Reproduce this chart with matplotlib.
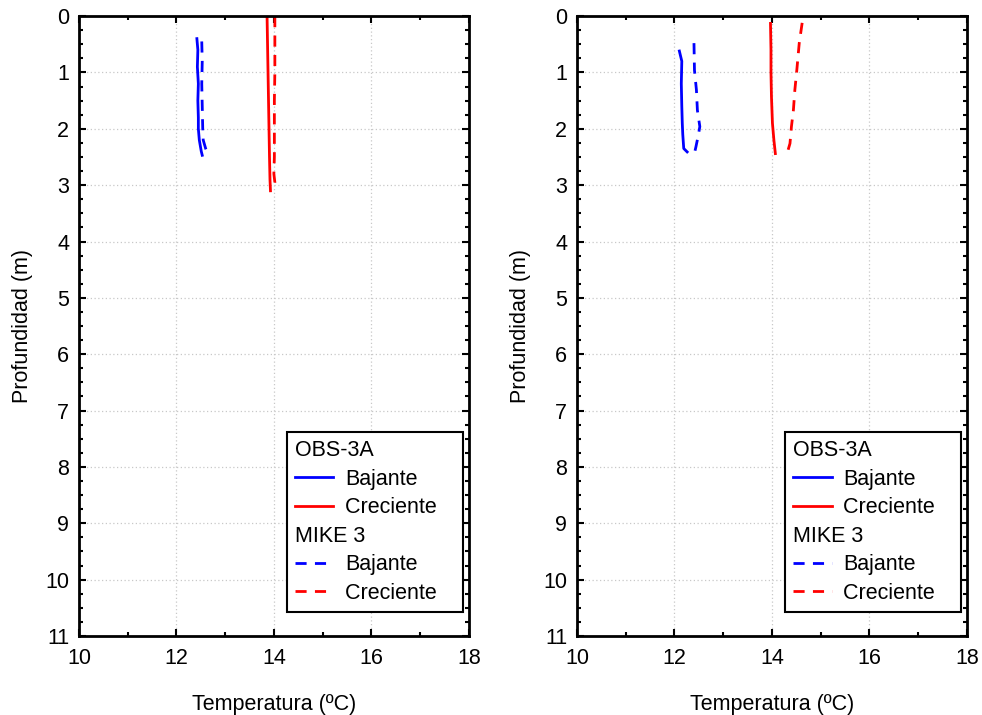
import numpy as np
import matplotlib
matplotlib.use('Agg')
import matplotlib.pyplot as plt
from matplotlib.lines import Line2D
from matplotlib.ticker import MultipleLocator

plt.rcParams['font.family'] = ['Liberation Sans', 'DejaVu Sans']

# left panel: depth (m) vs temperature (ºC)
obs_baj_z1 = [0.40, 0.60, 0.90, 1.20, 1.50, 1.80, 2.00, 2.20, 2.30, 2.40, 2.47]
obs_baj_t1 = [12.42, 12.44, 12.43, 12.45, 12.44, 12.45, 12.45, 12.47, 12.49, 12.51, 12.53]
obs_cre_z1 = [0.00, 0.50, 1.00, 1.50, 2.00, 2.50, 2.90, 3.10]
obs_cre_t1 = [13.86, 13.87, 13.88, 13.89, 13.90, 13.91, 13.92, 13.93]
mik_baj_z1 = [0.45, 0.80, 1.20, 1.60, 2.00, 2.20, 2.35, 2.45]
mik_baj_t1 = [12.52, 12.53, 12.52, 12.53, 12.54, 12.55, 12.60, 12.65]
mik_cre_z1 = [0.00, 0.50, 1.00, 1.50, 2.00, 2.50, 2.80, 2.95, 3.10]
mik_cre_t1 = [14.02, 14.02, 14.02, 14.01, 14.01, 14.01, 14.00, 14.02, 13.99]

# right panel
obs_baj_z2 = [0.62, 0.80, 1.20, 1.60, 1.90, 2.10, 2.35, 2.41]
obs_baj_t2 = [12.10, 12.15, 12.14, 12.15, 12.16, 12.17, 12.19, 12.26]
obs_cre_z2 = [0.13, 0.60, 1.00, 1.43, 1.90, 2.20, 2.44]
obs_cre_t2 = [13.97, 13.98, 13.98, 13.99, 14.01, 14.04, 14.07]
mik_baj_z2 = [0.48, 0.96, 1.31, 1.67, 1.96, 2.11, 2.32, 2.47]
mik_baj_t2 = [12.40, 12.41, 12.45, 12.47, 12.52, 12.49, 12.44, 12.40]
mik_cre_z2 = [0.12, 0.48, 0.96, 1.31, 1.67, 1.96, 2.26, 2.44]
mik_cre_t2 = [14.62, 14.56, 14.51, 14.47, 14.44, 14.40, 14.37, 14.31]

panels = [
    (obs_baj_t1, obs_baj_z1, obs_cre_t1, obs_cre_z1, mik_baj_t1, mik_baj_z1, mik_cre_t1, mik_cre_z1),
    (obs_baj_t2, obs_baj_z2, obs_cre_t2, obs_cre_z2, mik_baj_t2, mik_baj_z2, mik_cre_t2, mik_cre_z2),
]

fs = 15.5
dash = (0, (4, 3))
fig = plt.figure(figsize=(9.82, 7.15), dpi=100)
lefts = [0.0804, 0.5876]

for left, p in zip(lefts, panels):
    ax = fig.add_axes([left, 0.1105, 0.397, 0.867])
    ax.plot(p[0], p[1], color='blue', lw=2)
    ax.plot(p[2], p[3], color='red', lw=2)
    ax.plot(p[4], p[5], color='blue', lw=2, ls=dash)
    ax.plot(p[6], p[7], color='red', lw=2, ls=dash)

    ax.set_xlim(10, 18)
    ax.set_ylim(11, 0)
    ax.xaxis.set_major_locator(MultipleLocator(2))
    ax.xaxis.set_minor_locator(MultipleLocator(1))
    ax.yaxis.set_major_locator(MultipleLocator(1))
    ax.yaxis.set_minor_locator(MultipleLocator(0.25))
    ax.tick_params(which='both', direction='in', top=True, right=True,
                   labelsize=fs, width=1.5)
    ax.tick_params(axis='x', pad=9)
    ax.tick_params(axis='y', pad=7)
    ax.tick_params(which='major', length=5)
    ax.tick_params(which='minor', length=3)
    ax.grid(True, which='major', color='#c8c8c8', ls=(0, (1, 2)), lw=0.9)
    for s in ax.spines.values():
        s.set_linewidth(2)

    ax.set_xlabel('Temperatura (ºC)', fontsize=fs, labelpad=18)
    ax.set_ylabel('Profundidad (m)', fontsize=fs, labelpad=9)

    blank = Line2D([], [], color='none')
    handles = [blank,
               Line2D([], [], color='blue', lw=2),
               Line2D([], [], color='red', lw=2),
               blank,
               Line2D([], [], color='blue', lw=2, ls=dash),
               Line2D([], [], color='red', lw=2, ls=dash)]
    labels = ['OBS-3A', 'Bajante', 'Creciente   ', 'MIKE 3', 'Bajante', 'Creciente   ']
    leg = ax.legend(handles, labels, loc='lower left', bbox_to_anchor=(0.533, 0.039),
                    fontsize=fs, fancybox=False, framealpha=1, edgecolor='black',
                    handlelength=1.8, handletextpad=0.55, labelspacing=0.35,
                    borderpad=0.37, borderaxespad=0)
    leg.get_frame().set_linewidth(1.5)
    # push the group titles to the left edge
    rows = leg._legend_handle_box.get_children()[0].get_children()
    for i in (0, 3):
        rows[i].get_children()[0].set_width(0)
        rows[i].sep = 0

fig.savefig('out.png', dpi=100)
